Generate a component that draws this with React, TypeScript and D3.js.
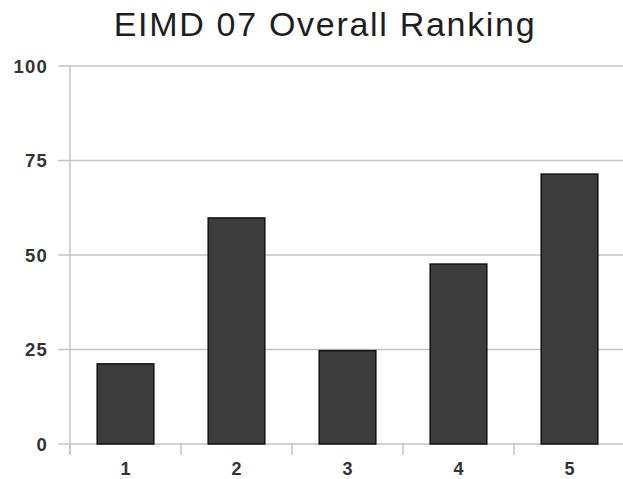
import { useEffect, useRef } from 'react';
import * as d3 from 'd3';

const categories = ['1', '2', '3', '4', '5'];
const values = [21.2, 59.8, 24.7, 47.6, 71.4];
const yTicks = [0, 25, 50, 75, 100];
const title = 'EIMD 07 Overall Ranking';

const width = 623;
const height = 479;

const App = () => {
  const svgRef = useRef<SVGSVGElement>(null);

  useEffect(() => {
    if (!svgRef.current) return;
    const svg = d3.select(svgRef.current);
    svg.selectAll('*').remove();

    const margin = { top: 66, right: -2, bottom: 35, left: 70 };
    const innerWidth = width - margin.left - margin.right;
    const innerHeight = height - margin.top - margin.bottom;

    const g = svg.append('g')
      .attr('transform', `translate(${margin.left},${margin.top})`);

    const x = d3.scaleBand()
      .domain(categories)
      .range([0, innerWidth])
      .paddingInner(0.49)
      .paddingOuter(0.245);

    const y = d3.scaleLinear()
      .domain([0, 100])
      .range([innerHeight, 0]);

    // Title
    svg.append('text')
      .attr('x', 325)
      .attr('y', 36)
      .attr('text-anchor', 'middle')
      .style('font-family', '"Liberation Sans", Arial, sans-serif')
      .style('font-size', '34px')
      .style('letter-spacing', '1.7px')
      .style('fill', '#1e1e1e')
      .text(title);

    // Gridlines
    g.selectAll('.grid')
      .data(yTicks)
      .join('line')
      .attr('x1', -12)
      .attr('x2', innerWidth)
      .attr('y1', d => y(d))
      .attr('y2', d => y(d))
      .attr('stroke', '#c4c4c4')
      .attr('stroke-width', 1.5);

    // Y axis line
    g.append('line')
      .attr('x1', 0).attr('x2', 0)
      .attr('y1', 0).attr('y2', innerHeight + 11)
      .attr('stroke', '#c4c4c4')
      .attr('stroke-width', 1.5);

    // X ticks between categories
    const step = x.step();
    const bounds = d3.range(categories.length + 1).map(i => i * step);
    g.selectAll('.xtick')
      .data(bounds)
      .join('line')
      .attr('x1', d => d).attr('x2', d => d)
      .attr('y1', innerHeight).attr('y2', innerHeight + 11)
      .attr('stroke', '#c4c4c4')
      .attr('stroke-width', 1.5);

    // Y tick labels
    g.selectAll('.ylabel')
      .data(yTicks)
      .join('text')
      .attr('x', -22)
      .attr('y', d => y(d) + 6.5)
      .attr('text-anchor', 'end')
      .style('font-family', '"Liberation Sans", Arial, sans-serif')
      .style('font-size', '18.5px')
      .style('font-weight', 'bold')
      .style('letter-spacing', '1.2px')
      .style('fill', '#333')
      .text(d => d);

    // Bars
    g.selectAll('.bar')
      .data(values)
      .join('rect')
      .attr('x', (d, i) => x(categories[i]) || 0)
      .attr('y', d => y(d))
      .attr('width', x.bandwidth())
      .attr('height', d => innerHeight - y(d))
      .attr('fill', '#3c3c3c')
      .attr('stroke', '#111')
      .attr('stroke-width', 1.5);

    // X labels
    g.selectAll('.xlabel')
      .data(categories)
      .join('text')
      .attr('x', d => (x(d) || 0) + x.bandwidth() / 2)
      .attr('y', innerHeight + 31)
      .attr('text-anchor', 'middle')
      .style('font-family', '"Liberation Sans", Arial, sans-serif')
      .style('font-size', '18px')
      .style('font-weight', 'bold')
      .style('fill', '#333')
      .text(d => d);
  }, []);

  return (
    <svg
      ref={svgRef}
      width={width}
      height={height}
      style={{ position: 'absolute', left: 0, top: 0, background: '#fff' }}
    />
  );
};

export default App;
